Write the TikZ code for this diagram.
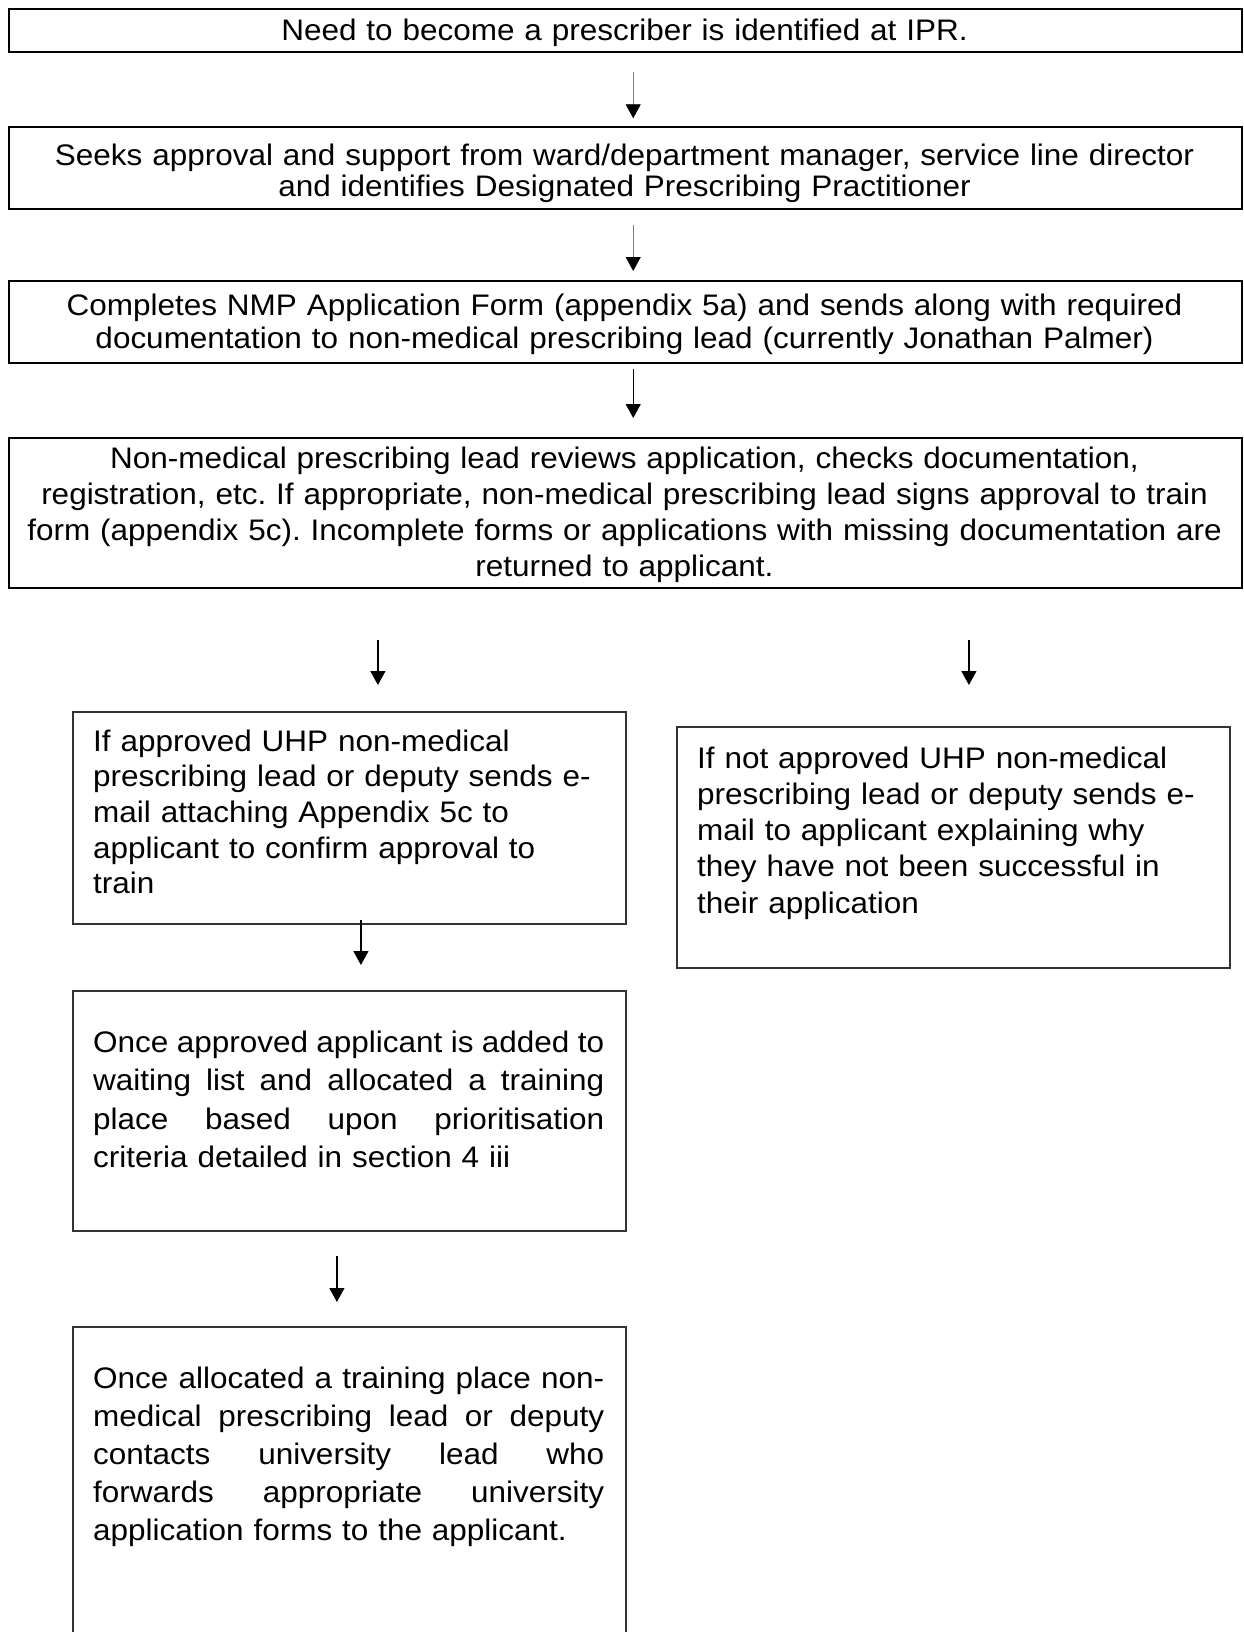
\documentclass[tikz,border=0pt]{standalone}
\usepackage{fontspec}
\setmainfont{Liberation Sans}[FakeStretch=1.06]
\usetikzlibrary{arrows.meta}
\frenchspacing
\newcommand{\jline}[1]{\leavevmode\hbox to 511pt{\spaceskip=\fontdimen2\font plus 1fil minus 0.4\fontdimen2\font\relax #1}}
\begin{document}
\begin{tikzpicture}[x=1pt,y=-1pt,
  topbox/.style={draw=black,line width=2.4pt,inner sep=0pt,anchor=north west},
  lowbox/.style={draw=black!80,line width=1.8pt,inner sep=0pt,anchor=north west},
  ctxt/.style={inner sep=0pt,anchor=base,text width=1230pt,align=center,font=\frenchspacing\fontsize{29.7}{#1}\selectfont},
  ltxt/.style={inner sep=0pt,anchor=base west,text width=530pt,align=left,font=\frenchspacing\fontsize{29.7}{#1}\selectfont},
  arr/.style={line width=1.3pt,-{Triangle[width=15pt,length=14pt]}},
  thinarr/.style={line width=0.9pt,draw=black!50,-{Triangle[width=15pt,length=14pt,color=black,fill=black]}},
]
\useasboundingbox (0,0) rectangle (1243,1632);
\clip (0,0) rectangle (1243,1632);
\fill[white] (0,0) rectangle (1243,1632);

% boxes
\node[topbox,minimum width=1233pt,minimum height=42.7pt] (b1) at (8,8) {};
\node[topbox,minimum width=1233pt,minimum height=82pt] (b2) at (8,126) {};
\node[topbox,minimum width=1233pt,minimum height=82pt] (b3) at (8,280) {};
\node[topbox,minimum width=1233pt,minimum height=150pt] (b4) at (8,437) {};
\node[lowbox,minimum width=553pt,minimum height=212pt] (b5) at (72,711) {};
\node[lowbox,minimum width=553pt,minimum height=241pt] (bR) at (676,726) {};
\node[lowbox,minimum width=553pt,minimum height=240pt] (b6) at (72,990) {};
\node[lowbox,minimum width=553pt,minimum height=340pt] (b7) at (72,1326) {};

% texts
\node[ctxt=28] (t1) at (624.5,40.5) {Need to become a prescriber is identified at IPR.};
\node[ctxt=31] (t2) at (624.5,166) {Seeks approval and support from ward/department manager, service line director\\and identifies Designated Prescribing Practitioner};
\node[ctxt=33] (t3) at (624.5,315) {Completes NMP Application Form (appendix 5a) and sends along with required\\documentation to non-medical prescribing lead (currently Jonathan Palmer)};
\node[ctxt=36] (t4) at (624.5,468) {Non-medical prescribing lead reviews application, checks documentation,\\registration, etc. If appropriate, non-medical prescribing lead signs approval to train\\form (appendix 5c). Incomplete forms or applications with missing documentation are\\returned to applicant.};
\node[ltxt=35.7] (t5) at (93,751) {If approved UHP non-medical\\prescribing lead or deputy sends e-\\mail attaching Appendix 5c to\\applicant to confirm approval to\\train};
\node[ltxt=36.3] (tR) at (697,768) {If not approved UHP non-medical\\prescribing lead or deputy sends e-\\mail to applicant explaining why\\they have not been successful in\\their application};
\node[ltxt=38.5] (t6) at (93,1052) {\jline{Once approved applicant is added to}\\\jline{waiting list and allocated a training}\\\jline{place based upon prioritisation}\\criteria detailed in section 4 iii};
\node[ltxt=38] (t7) at (93,1388) {\jline{Once allocated a training place non-}\\\jline{medical prescribing lead or deputy}\\\jline{contacts university lead who}\\\jline{forwards appropriate university}\\application forms to the applicant.};

% connectors
\draw[thinarr,shorten <=19.3pt,shorten >=7.7pt] ([xshift=7.5pt]b1.south) -- ([xshift=7.5pt]b2.north);
\draw[thinarr,shorten <=15pt,shorten >=9pt] ([xshift=7.5pt]b2.south) -- ([xshift=7.5pt]b3.north);
\draw[arr,shorten <=5pt,shorten >=19pt] ([xshift=7.5pt]b3.south) -- ([xshift=7.5pt]b4.north);
\coordinate (l5) at ([xshift=28.5pt]b5.north);
\draw[arr,shorten <=51pt,shorten >=26pt] (l5 |- b4.south) -- (l5);
\coordinate (r5) at ([xshift=15.5pt]bR.north);
\draw[arr,shorten <=51pt,shorten >=41pt] (r5 |- b4.south) -- (r5);
\draw[arr,shorten <=-5pt,shorten >=25pt] ([xshift=11.5pt]b5.south) -- ([xshift=11.5pt]b6.north);
\draw[arr,shorten <=24pt,shorten >=24pt] ([xshift=-12.5pt]b6.south) -- ([xshift=-12.5pt]b7.north);
\end{tikzpicture}
\end{document}
